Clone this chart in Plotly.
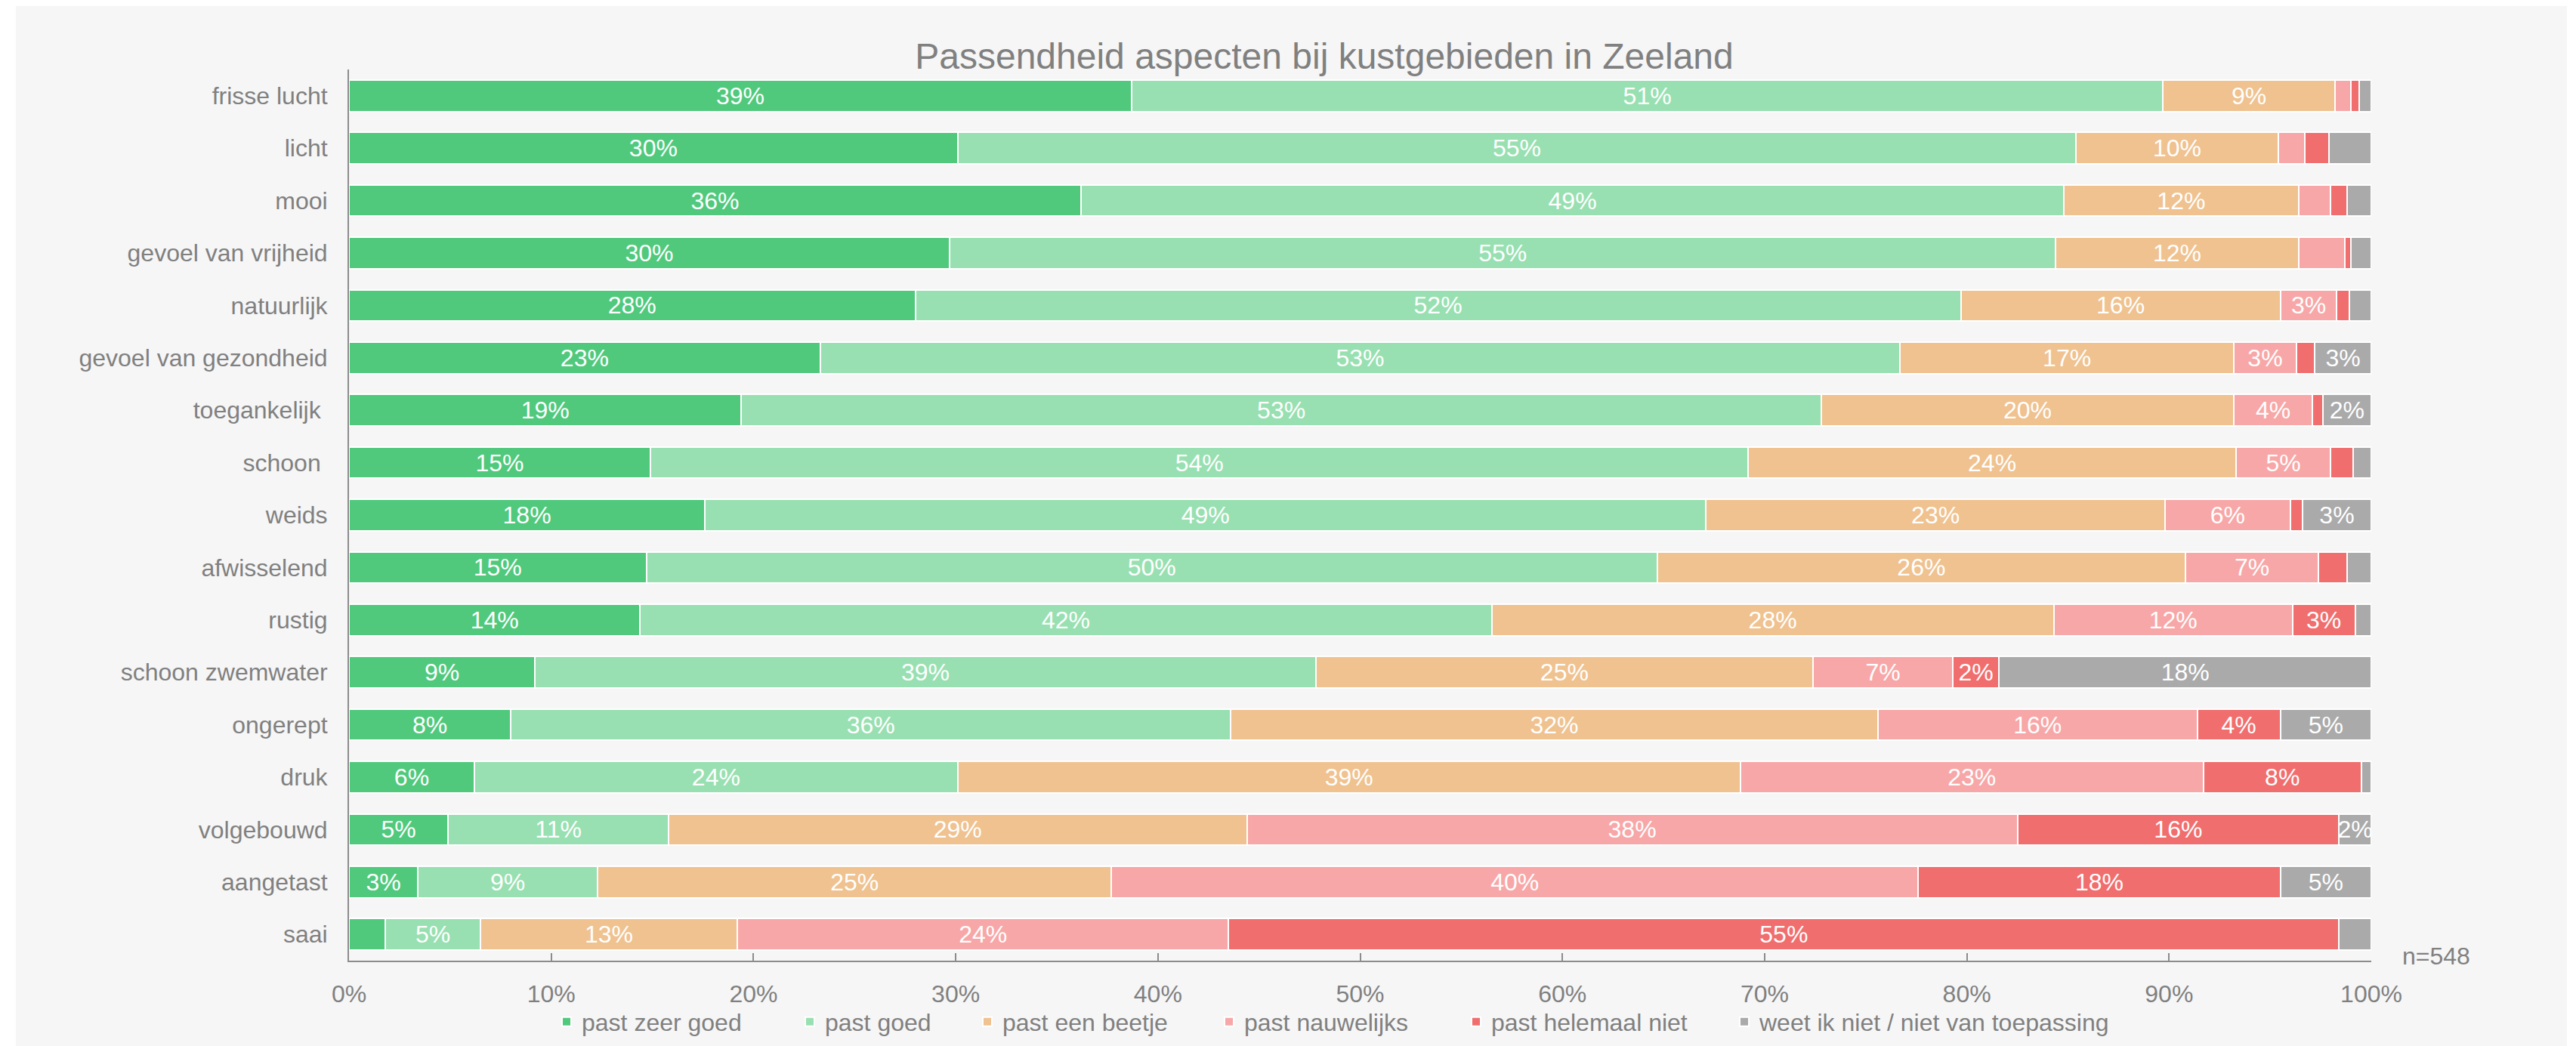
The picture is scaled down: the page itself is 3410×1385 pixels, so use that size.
import plotly.graph_objects as go

# ---------------- data ----------------
categories = [
    "frisse lucht", "licht", "mooi", "gevoel van vrijheid", "natuurlijk",
    "gevoel van gezondheid", "toegankelijk", "schoon", "weids", "afwisselend",
    "rustig", "schoon zwemwater", "ongerept", "druk", "volgebouwd",
    "aangetast", "saai",
]
category_labels = [
    "frisse lucht", "licht", "mooi", "gevoel van vrijheid", "natuurlijk",
    "gevoel van gezondheid", "toegankelijk\u00a0", "schoon\u00a0", "weids", "afwisselend",
    "rustig", "schoon zwemwater", "ongerept", "druk", "volgebouwd",
    "aangetast", "saai",
]

series_names = [
    "past zeer goed", "past goed", "past een beetje",
    "past nauwelijks", "past helemaal niet", "weet ik niet / niet van toepassing",
]

past_zeer_goed = [38.7, 30.1, 36.2, 29.7, 28.0, 23.3, 19.4, 14.9, 17.6, 14.7, 14.4, 9.2, 8.0, 6.2, 4.9, 3.4, 1.8]
past_goed = [51.0, 55.3, 48.6, 54.7, 51.7, 53.4, 53.4, 54.3, 49.5, 50.0, 42.1, 38.6, 35.6, 23.9, 10.9, 8.9, 4.7]
past_een_beetje = [8.5, 10.0, 11.6, 12.0, 15.8, 16.5, 20.4, 24.1, 22.7, 26.1, 27.8, 24.6, 32.0, 38.7, 28.6, 25.4, 12.7]
past_nauwelijks = [0.8, 1.3, 1.6, 2.3, 2.8, 3.1, 3.9, 4.7, 6.2, 6.6, 11.8, 6.9, 15.8, 22.9, 38.1, 39.9, 24.3]
past_helemaal_niet = [0.4, 1.2, 0.8, 0.3, 0.6, 0.9, 0.5, 1.1, 0.6, 1.4, 3.1, 2.3, 4.1, 7.8, 15.9, 17.9, 54.9]
weet_niet = [0.6, 2.1, 1.2, 1.0, 1.1, 2.8, 2.4, 0.9, 3.4, 1.2, 0.8, 18.4, 4.5, 0.5, 1.6, 4.5, 1.6]

labels_zeer_goed = ["39%", "30%", "36%", "30%", "28%", "23%", "19%", "15%", "18%", "15%", "14%", "9%", "8%", "6%", "5%", "3%", ""]
labels_goed = ["51%", "55%", "49%", "55%", "52%", "53%", "53%", "54%", "49%", "50%", "42%", "39%", "36%", "24%", "11%", "9%", "5%"]
labels_een_beetje = ["9%", "10%", "12%", "12%", "16%", "17%", "20%", "24%", "23%", "26%", "28%", "25%", "32%", "39%", "29%", "25%", "13%"]
labels_nauwelijks = ["", "", "", "", "3%", "3%", "4%", "5%", "6%", "7%", "12%", "7%", "16%", "23%", "38%", "40%", "24%"]
labels_helemaal_niet = ["", "", "", "", "", "", "", "", "", "", "3%", "2%", "4%", "8%", "16%", "18%", "55%"]
labels_weet_niet = ["", "", "", "", "", "3%", "2%", "", "3%", "", "", "18%", "5%", "", "2%", "5%", ""]

x_ticks = [0, 10, 20, 30, 40, 50, 60, 70, 80, 90, 100]
x_tick_labels = ["0%", "10%", "20%", "30%", "40%", "50%", "60%", "70%", "80%", "90%", "100%"]
title_text = "Passendheid aspecten bij kustgebieden in Zeeland"
n_text = "n=548"

series_values = [past_zeer_goed, past_goed, past_een_beetje, past_nauwelijks, past_helemaal_niet, weet_niet]
series_labels = [labels_zeer_goed, labels_goed, labels_een_beetje, labels_nauwelijks, labels_helemaal_niet, labels_weet_niet]
colors = ["#50C97D", "#98E0B1", "#EFC290", "#F7A7A7", "#F06E6E", "#AAAAAA"]

# ---------------- layout geometry ----------------
FONT = "Arial, 'Liberation Sans', sans-serif"
TXT = "#808080"
AXIS = "#8C8C8C"
PANEL = "#F6F6F6"

OFF = 8                      # body margin of the page
W, H = 3390, 1377
ML, MR, MT, MB = 454, 259, 84, 113
PW = W - ML - MR
PH = H - MT - MB


def paper_x(page_x):
    return (page_x - OFF - ML) / PW


def paper_y(page_y):
    return (H - MB - (page_y - OFF)) / PH


fig = go.Figure()
for i, (name, vals, labs, col) in enumerate(zip(series_names, series_values, series_labels, colors)):
    fig.add_trace(go.Bar(
        y=categories, x=vals, name=name, orientation="h",
        marker=dict(color=col, line=dict(color="white", width=2)),
        text=labs, textposition="inside", insidetextanchor="middle",
        textangle=0, textfont=dict(color="white", size=32, family=FONT),
        legend=f"legend{i + 2}",
        showlegend=True,
        hovertemplate="%{y}: %{x:.1f}%<extra>" + name + "</extra>",
    ))

# legends: one per series, placed like the original
legend_left_page = [730, 1052, 1287, 1607, 1934, 2289]
LEG_Y_PAGE = 1353
for i, lx in enumerate(legend_left_page):
    key = f"legend{i + 2}"
    fig.layout[key] = dict(
        x=(lx - OFF) / W, xref="container", xanchor="left",
        y=1 - (LEG_Y_PAGE - OFF) / H, yref="container", yanchor="middle",
        orientation="h", bgcolor="rgba(0,0,0,0)", borderwidth=0,
        font=dict(size=32, color=TXT, family=FONT),
    )

fig.update_layout(
    width=W, height=H,
    margin=dict(l=ML, r=MR, t=MT, b=MB, pad=0, autoexpand=False),
    paper_bgcolor="white", plot_bgcolor="rgba(0,0,0,0)",
    barmode="stack", bargap=0.4,
    font=dict(family=FONT, size=32, color=TXT),
    uniformtext=dict(minsize=32, mode="show"),
    title=dict(
        text=title_text, x=(1753 - OFF) / W, xref="container", xanchor="center",
        y=1 - (74 - OFF) / H, yref="container", yanchor="middle",
        font=dict(size=48, color=TXT, family=FONT),
    ),
    xaxis=dict(
        range=[0, 100], tickmode="array", tickvals=x_ticks, ticktext=x_tick_labels,
        showgrid=False, zeroline=False,
        showline=True, linecolor=AXIS, linewidth=2,
        ticks="inside", ticklen=10, tickwidth=2, tickcolor=AXIS,
        ticklabelstandoff=15, automargin=False,
        tickfont=dict(size=32, color=TXT, family=FONT),
        fixedrange=True,
    ),
    yaxis=dict(
        categoryorder="array", categoryarray=categories,
        tickvals=categories, ticktext=category_labels,
        autorange="reversed", showgrid=False, zeroline=False,
        showline=True, linecolor=AXIS, linewidth=2, ticks="",
        ticklabelstandoff=20, automargin=False,
        tickfont=dict(size=32, color=TXT, family=FONT),
        fixedrange=True,
    ),
    shapes=[dict(
        type="rect", xref="paper", yref="paper", layer="below",
        x0=paper_x(21), x1=paper_x(3398), y0=paper_y(1385), y1=paper_y(8),
        fillcolor=PANEL, line=dict(width=0),
    )],
    annotations=[dict(
        text=n_text, xref="paper", yref="paper", showarrow=False,
        x=paper_x(3178), xanchor="left", y=paper_y(1266), yanchor="middle",
        font=dict(size=32, color=TXT, family=FONT),
    )],
)

fig.write_html("out.html")
